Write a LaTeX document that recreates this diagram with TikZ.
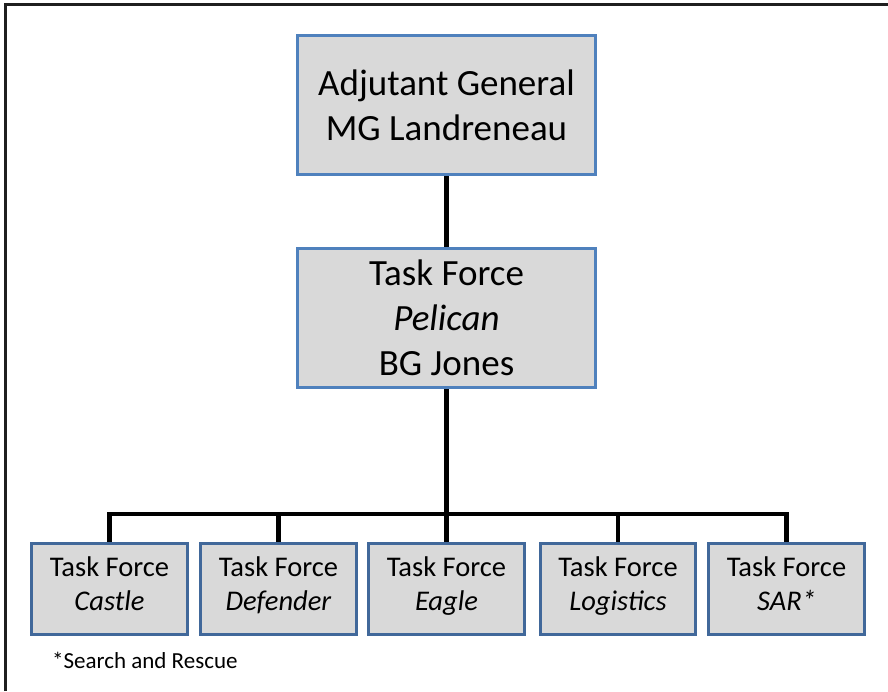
\documentclass[tikz,border=0pt]{standalone}
\usepackage{fontspec}
\setmainfont{Carlito}
\usetikzlibrary{positioning}
\definecolor{boxfill}{HTML}{D9D9D9}
\definecolor{topblue}{HTML}{4F81BD}
\definecolor{lowblue}{HTML}{41689A}
\tikzset{
  cmdbox/.style={draw=topblue, fill=boxfill, line width=3pt, minimum width=298pt, minimum height=139pt, align=center, inner sep=0pt, font=\fontsize{37}{45}\selectfont},
  tfbox/.style={draw=lowblue, fill=boxfill, line width=3pt, minimum width=155.5pt, minimum height=91pt, align=center, inner sep=0pt, font=\fontsize{28.5}{34}\selectfont, execute at begin node=\strut, execute at end node=\strut},
  link/.style={line width=4.5pt, black}
}
\begin{document}
\begin{tikzpicture}[x=1pt, y=-1pt]
\useasboundingbox (0,0) rectangle (888,691);
\draw[line width=3pt, black!88] (5,691) -- (5,4.5) -- (888,4.5);

\node (AG) [cmdbox] at (446.5,105) {Adjutant General\\MG Landreneau};
\node (TFP) [cmdbox, below=71pt of AG] {Task Force\\\textit{Pelican}\\BG Jones};

\node (TFE) [tfbox, below=153pt of TFP] {Task Force\\\textit{Eagle}};
\node (TFD) [tfbox, left=9.5pt of TFE] {Task Force\\\textit{Defender}};
\node (TFC) [tfbox, left=10.5pt of TFD] {Task Force\\\textit{Castle}};
\node (TFL) [tfbox, right=13pt of TFE] {Task Force\\\textit{Logistics}};
\node (TFS) [tfbox, right=10pt of TFL] {Task Force\\\textit{SAR*}};

\node (note) [anchor=base west, inner sep=0pt, font=\fontsize{23}{28}\selectfont] at (52,668) {*Search and Rescue};

% lines
\coordinate (bus) at (446,514);
\draw[link] (AG) -- (TFP);
\draw[link] (TFP) -- (TFE);
\draw[link] (TFC.north) |- (bus) -| (TFS.north);
\draw[link] (TFD.north) -- (TFD.north |- bus);
\draw[link] (TFL.north) -- (TFL.north |- bus);
\end{tikzpicture}
\end{document}
